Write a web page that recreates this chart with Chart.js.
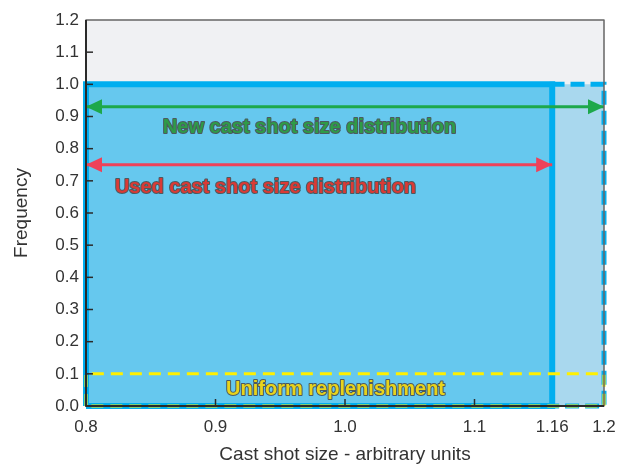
<!DOCTYPE html>
<html><head><meta charset="utf-8">
<script src="https://cdn.jsdelivr.net/npm/chart.js@4/dist/chart.umd.min.js"></script>
<style>html,body{margin:0;padding:0;background:#fff}</style>
</head><body>
<canvas id="c" width="628" height="468"></canvas>
<script>
// ---- data ----
const xTickValues = [0.8, 0.9, 1.0, 1.1, 1.16, 1.2];
const xTickLabels = ['0.8', '0.9', '1.0', '1.1', '1.16', '1.2'];
const xTickMarks = [0.9, 1.0, 1.1];
const usedRange = [0.8, 1.16];     // used cast shot size distribution
const usedFreq = 1.0;
const newRange = [1.16, 1.2];      // extension of new distribution
const newFreq = 1.0;
const uniformRange = [0.8, 1.2];   // uniform replenishment
const uniformFreq = 0.1;
const newArrowX = [0.8, 1.2];
const newArrowY = 0.93;
const usedArrowX = [0.8, 1.16];
const usedArrowY = 0.75;
const labelTexts = ['New cast shot size distribution', 'Used cast shot size distribution', 'Uniform replenishment'];
const labelX = [0.9726, 0.9386, 0.9927];
const labelY = [0.867, 0.678, 0.05];

const FONT = '"Liberation Sans", Arial, sans-serif';

function area(r, h) {   // open outline used for filling
  return [{x: r[0], y: 0}, {x: r[0], y: h}, {x: r[1], y: h}, {x: r[1], y: 0}];
}
function outline(r, h) { // closed outline
  return [{x: r[0], y: 0}, {x: r[0], y: h}, {x: r[1], y: h}, {x: r[1], y: 0}, {x: r[0], y: 0}];
}

const decor = {
  id: 'decor',
  beforeDatasetsDraw(chart) {
    const {ctx, chartArea: a} = chart;
    ctx.save();
    ctx.fillStyle = '#F0F1F3';
    ctx.fillRect(a.left, a.top, a.right - a.left, a.bottom - a.top);
    ctx.restore();
  },
  afterDatasetsDraw(chart) {
    const {ctx, chartArea: a, scales} = chart;
    const xs = scales.x, ys = scales.y;
    ctx.save();
    // arrowheads
    chart.data.datasets.forEach((ds) => {
      if (!ds.arrow) return;
      const p0 = ds.data[0], p1 = ds.data[ds.data.length - 1];
      const y = ys.getPixelForValue(p0.y);
      const xl = xs.getPixelForValue(p0.x), xr = xs.getPixelForValue(p1.x);
      ctx.fillStyle = ds.borderColor;
      const L = 16, W = 7.5;
      ctx.beginPath(); ctx.moveTo(xl, y); ctx.lineTo(xl + L, y - W); ctx.lineTo(xl + L, y + W); ctx.closePath(); ctx.fill();
      ctx.beginPath(); ctx.moveTo(xr, y); ctx.lineTo(xr - L, y - W); ctx.lineTo(xr - L, y + W); ctx.closePath(); ctx.fill();
    });
    // labels
    const colors = ['#2E9B48', '#DA3A35', '#E8D41C'];
    ctx.font = 'bold 20px ' + FONT;
    ctx.textAlign = 'center';
    ctx.textBaseline = 'middle';
    labelTexts.forEach((t, i) => {
      const px = xs.getPixelForValue(labelX[i]);
      const py = ys.getPixelForValue(labelY[i]);
      ctx.lineWidth = 2;
      ctx.strokeStyle = 'rgba(70,70,70,0.85)';
      ctx.lineJoin = 'round';
      ctx.strokeText(t, px, py);
      ctx.fillStyle = colors[i];
      ctx.fillText(t, px, py);
    });
    // frame
    ctx.strokeStyle = '#666';
    ctx.lineWidth = 1.5;
    ctx.strokeRect(a.left, a.top, a.right - a.left, a.bottom - a.top);
    ctx.strokeStyle = '#2a2a2a';
    ctx.lineWidth = 2;
    ctx.beginPath();
    ctx.moveTo(a.left, a.top); ctx.lineTo(a.left, a.bottom); ctx.lineTo(a.right, a.bottom);
    ctx.stroke();
    // inward tick marks
    ctx.lineWidth = 1.5;
    ys.ticks.forEach(t => {
      if (t.value <= 0 || t.value >= 1.2) return;
      const py = ys.getPixelForValue(t.value);
      ctx.beginPath(); ctx.moveTo(a.left, py); ctx.lineTo(a.left + 7, py); ctx.stroke();
    });
    xTickMarks.forEach(v => {
      const px = xs.getPixelForValue(v);
      ctx.beginPath(); ctx.moveTo(px, a.bottom); ctx.lineTo(px, a.bottom - 7); ctx.stroke();
    });
    ctx.restore();
  }
};

new Chart(document.getElementById('c'), {
  type: 'scatter',
  data: {
    datasets: [
      {label: 'new arrow', data: newArrowX.map(x => ({x, y: newArrowY})), showLine: true, arrow: true,
       borderColor: '#1DA84B', borderWidth: 3, pointRadius: 0, order: 0, clip: false},
      {label: 'used arrow', data: usedArrowX.map(x => ({x, y: usedArrowY})), showLine: true, arrow: true,
       borderColor: '#EE4259', borderWidth: 3, pointRadius: 0, order: 0, clip: false},
      {label: 'uniform', data: outline(uniformRange, uniformFreq), showLine: true, fill: false,
       borderColor: '#FFF000', borderWidth: 3, borderDash: [12, 7], pointRadius: 0, order: 1, clip: false},
      {label: 'used outline', data: outline(usedRange, usedFreq), showLine: true, fill: false,
       borderColor: '#00AEEF', borderWidth: 6, pointRadius: 0, order: 2, clip: false},
      {label: 'used', data: area(usedRange, usedFreq), showLine: true, fill: 'origin',
       backgroundColor: '#66C8EE', borderColor: 'rgba(0,0,0,0)', borderWidth: 0, pointRadius: 0, order: 3, clip: false},
      {label: 'new outline', data: outline(newRange, newFreq), showLine: true, fill: false,
       borderColor: '#00AEEF', borderWidth: 5, borderDash: [14, 6], pointRadius: 0, order: 4, clip: false},
      {label: 'new ext', data: area(newRange, newFreq), showLine: true, fill: 'origin',
       backgroundColor: '#A9D8EE', borderColor: 'rgba(0,0,0,0)', borderWidth: 0, pointRadius: 0, order: 5, clip: false}
    ]
  },
  options: {
    responsive: false,
    animation: false,
    devicePixelRatio: 1,
    layout: {padding: {top: 20, right: 24, bottom: 0, left: 0}},
    plugins: {legend: {display: false}, tooltip: {enabled: false}},
    scales: {
      x: {
        type: 'linear', min: 0.8, max: 1.2,
        afterBuildTicks: s => { s.ticks = xTickValues.map(v => ({value: v})); },
        afterFit: s => { s.height = 62; },
        grid: {display: false, drawTicks: false},
        border: {display: false},
        ticks: {padding: 11, color: '#333', font: {family: FONT, size: 17},
                callback: (v) => { const i = xTickValues.indexOf(v); return i >= 0 ? xTickLabels[i] : ''; }},
        title: {display: true, text: 'Cast shot size - arbitrary units', color: '#333',
                font: {family: FONT, size: 19}, padding: {top: 0, bottom: 2}}
      },
      y: {
        type: 'linear', min: 0, max: 1.2,
        afterFit: s => { s.width = 86; },
        grid: {display: false, drawTicks: false},
        border: {display: false},
        ticks: {stepSize: 0.1, padding: 7, color: '#333', font: {family: FONT, size: 17},
                callback: v => Number(v).toFixed(1)},
        title: {display: true, text: 'Frequency', color: '#333',
                font: {family: FONT, size: 19}, padding: {top: 10, bottom: 0}}
      }
    }
  },
  plugins: [decor]
});
</script>
</body></html>
